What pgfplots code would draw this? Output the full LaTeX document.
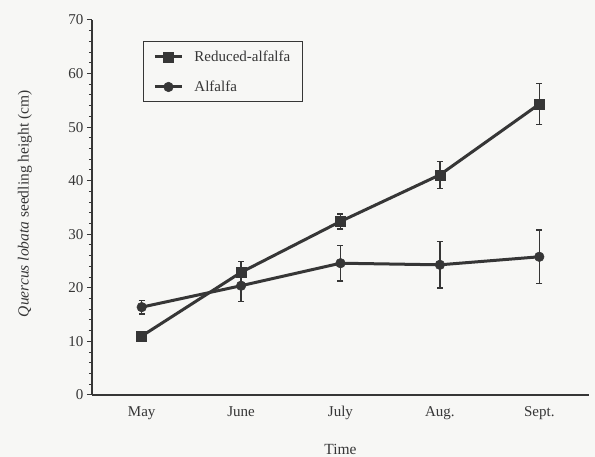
\documentclass[border=0pt]{standalone}
\usepackage{pgfplots}
\pgfplotsset{compat=1.18}
\usepackage{fontspec}
\setmainfont{Liberation Serif}
\definecolor{ink}{HTML}{363636}
\definecolor{paper}{HTML}{F7F7F5}

\pgfplotstableread{
x   y     e
0.5 11.0  0.4
1.5 22.9  2.0
2.5 32.4  1.4
3.5 41.1  2.5
4.5 54.3  3.8
}\reduced
\pgfplotstableread{
x   y     e
0.5 16.4  1.3
1.5 20.4  3.0
2.5 24.6  3.3
3.5 24.3  4.3
4.5 25.8  5.0
}\alfalfa

\begin{document}
\begin{tikzpicture}
\useasboundingbox (-92pt,-62pt) rectangle (503pt,395pt);
\fill[paper] (-92pt,-62pt) rectangle (503pt,395pt);
\begin{axis}[
  at={(0pt,0pt)}, anchor=south west,
  scale only axis, width=497pt, height=375pt,
  xmin=0, xmax=5, ymin=0, ymax=70,
  axis lines=left,
  axis line style={-, line width=1.3pt, ink},
  every tick/.style={ink, line width=1pt},
  tick align=outside,
  major tick length=5pt, minor tick length=3pt,
  ytick={0,10,...,70}, minor y tick num=4,
  xtick={0.5,1.5,2.5,3.5,4.5},
  xticklabels={May,June,July,Aug.,Sept.},
  minor xtick={0,1,2,3,4,5},
  xtick style={draw=none},
  minor x tick style={line width=1pt, ink},
  x tick label style={yshift=-3pt},
  /pgf/number format/assume math mode=true,
  tick label style={font=\fontsize{15}{17}\selectfont, text=ink},
  xlabel={Time},
  ylabel={\textit{Quercus lobata} seedling height (cm)},
  every axis x label/.style={at={(axis description cs:0.5,-0.144)}, anchor=center,
    font=\fontsize{15.5}{18}\selectfont, text=ink},
  every axis y label/.style={at={(axis description cs:-0.135,0.51)}, rotate=90, anchor=center,
    font=\fontsize{15.5}{18}\selectfont, text=ink},
  legend style={at={(rel axis cs:0.1026,0.943)}, anchor=north west,
    draw=ink, line width=1pt, fill=none, text=ink,
    font=\fontsize{15}{18}\selectfont,
    inner xsep=10pt, inner ysep=7pt, row sep=14pt,
    /tikz/every even column/.style={column sep=4pt},
    /tikz/every odd column/.style={column sep=9pt}},
  legend cell align=left,
  legend image code/.code={
    \draw[#1, mark repeat=2, mark phase=2] plot coordinates {(0pt,0pt) (13.5pt,0pt) (27pt,0pt)};
  },
  clip=false,
]
\addplot[ink, line width=3pt, mark=square*, mark size=5pt,
  mark options={solid, line width=0.5pt},
  error bars/.cd, y dir=both, y explicit,
  error bar style={line width=1.3pt, ink},
  error mark options={rotate=90, line width=1.3pt, mark size=3pt, ink}]
  table[x=x, y=y, y error=e] {\reduced};
\addlegendentry{Reduced-alfalfa}
\addplot[ink, line width=3pt, mark=*, mark size=4.8pt,
  mark options={solid, line width=0.5pt},
  error bars/.cd, y dir=both, y explicit,
  error bar style={line width=1.3pt, ink},
  error mark options={rotate=90, line width=1.3pt, mark size=3pt, ink}]
  table[x=x, y=y, y error=e] {\alfalfa};
\addlegendentry{Alfalfa}
\end{axis}
\end{tikzpicture}
\end{document}
